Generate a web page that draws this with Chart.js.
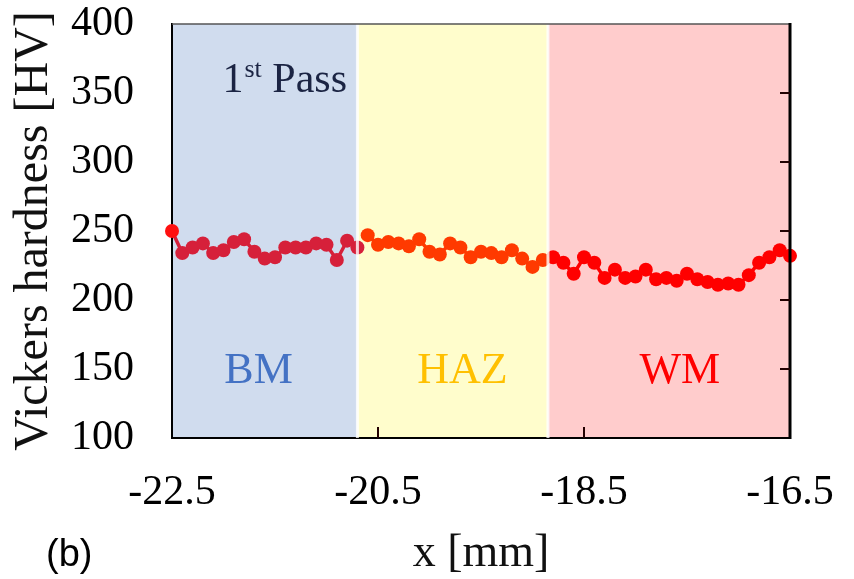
<!DOCTYPE html>
<html>
<head>
<meta charset="utf-8">
<script src="https://cdn.jsdelivr.net/npm/chart.js@4.4.0/dist/chart.umd.min.js"></script>
<style>
  html, body { margin: 0; padding: 0; background: #fff; }
  #wrap { width: 854px; height: 579px; position: relative; }
</style>
</head>
<body>
<div id="wrap"><canvas id="hvChart"></canvas></div>
<script>
// Hardness profile, 1st pass (x in mm, hardness in HV)
const bmX  = [-22.5, -22.4, -22.3, -22.2, -22.1, -22.0, -21.9, -21.8, -21.7, -21.6,
              -21.5, -21.4, -21.3, -21.2, -21.1, -21.0, -20.9, -20.8, -20.7];
const bmHV = [250, 234, 238, 241, 234, 236, 242, 244, 235, 230,
              231, 238, 238, 238, 241, 240, 229, 243, 238];

const hazX  = [-20.6, -20.5, -20.4, -20.3, -20.2, -20.1, -20.0, -19.9, -19.8,
               -19.7, -19.6, -19.5, -19.4, -19.3, -19.2, -19.1, -19.0, -18.9];
const hazHV = [247, 240, 242, 241, 239, 244, 235, 233, 241,
               238, 231, 235, 234, 231, 236, 230, 224, 229];

const wmX  = [-18.8, -18.7, -18.6, -18.5, -18.4, -18.3, -18.2, -18.1, -18.0, -17.9, -17.8, -17.7,
              -17.6, -17.5, -17.4, -17.3, -17.2, -17.1, -17.0, -16.9, -16.8, -16.7, -16.6, -16.5];
const wmHV = [231, 227, 219, 231, 227, 216, 222, 216, 217, 222, 215, 216,
              214, 219, 215, 213, 211, 212, 211, 218, 227, 231, 236, 232];

const zoneNames = ['BM', 'HAZ', 'WM'];
const zoneEdges = [-22.5, -20.7, -18.85, -16.5];

const xTicks = [-22.5, -20.5, -18.5, -16.5];
const yTicks = [100, 150, 200, 250, 300, 350, 400];

const SERIF = '"Liberation Serif", "Times New Roman", serif';
const zoneFill = ['#D0DCEE', '#FFFDCC', '#FFCCCC'];
const zoneText = ['#4472C4', '#FFC000', '#FF0000'];
const zoneLabelAt = [[-21.66, 148], [-19.68, 148], [-17.57, 148]];

const pts = (xs, ys) => xs.map((x, i) => ({ x: x, y: ys[i] }));

const overlay = {
  id: 'overlay',
  beforeDraw(chart) {
    const { ctx, chartArea: a, scales: { x } } = chart;
    ctx.save();
    zoneNames.forEach((n, i) => {
      const x0 = x.getPixelForValue(zoneEdges[i]);
      const x1 = x.getPixelForValue(zoneEdges[i + 1]);
      ctx.fillStyle = zoneFill[i];
      ctx.fillRect(x0, a.top, x1 - x0, a.bottom - a.top);
    });
    ctx.restore();
  },
  afterDatasetsDraw(chart) {
    const { ctx, chartArea: a, scales: { x, y } } = chart;
    ctx.save();
    // white separators between zones
    ctx.strokeStyle = 'rgba(255,255,255,0.8)';
    ctx.lineWidth = 3;
    zoneEdges.slice(1, -1).forEach(v => {
      const px = x.getPixelForValue(v);
      ctx.beginPath(); ctx.moveTo(px, a.top); ctx.lineTo(px, a.bottom); ctx.stroke();
    });
    // frame: top + right
    ctx.strokeStyle = '#555';
    ctx.lineWidth = 1.5;
    ctx.beginPath(); ctx.moveTo(a.left, a.top); ctx.lineTo(a.right, a.top); ctx.stroke();
    ctx.strokeStyle = '#000';
    ctx.lineWidth = 3;
    ctx.beginPath(); ctx.moveTo(a.right, a.top - 1); ctx.lineTo(a.right, a.bottom + 1); ctx.stroke();
    // inward ticks
    ctx.strokeStyle = '#200';
    ctx.lineWidth = 2;
    yTicks.slice(1, -1).forEach(v => {
      const py = y.getPixelForValue(v);
      ctx.beginPath(); ctx.moveTo(a.right, py); ctx.lineTo(a.right - 10, py); ctx.stroke();
    });
    xTicks.slice(1, -1).forEach(v => {
      const px = x.getPixelForValue(v);
      ctx.beginPath(); ctx.moveTo(px, a.bottom); ctx.lineTo(px, a.bottom - 11); ctx.stroke();
    });
    // zone labels
    ctx.font = '44px ' + SERIF;
    ctx.textAlign = 'center';
    ctx.textBaseline = 'middle';
    zoneNames.forEach((n, i) => {
      ctx.fillStyle = zoneText[i];
      ctx.fillText(n, x.getPixelForValue(zoneLabelAt[i][0]), y.getPixelForValue(zoneLabelAt[i][1]));
    });
    // "1st Pass"
    ctx.fillStyle = '#1B2443';
    ctx.textAlign = 'left';
    ctx.textBaseline = 'alphabetic';
    let px = x.getPixelForValue(-22.01);
    const py = y.getPixelForValue(351);
    ctx.font = '42px ' + SERIF;
    ctx.fillText('1', px, py);
    px += ctx.measureText('1').width;
    ctx.font = '26px ' + SERIF;
    ctx.fillText('st', px + 1, py - 15);
    px += ctx.measureText('st').width + 1;
    ctx.font = '42px ' + SERIF;
    ctx.fillText(' Pass', px, py);
    ctx.restore();
  },
  afterDraw(chart) {
    const { ctx } = chart;
    ctx.save();
    ctx.fillStyle = '#000';
    ctx.font = '38px "Liberation Sans", Arial, sans-serif';
    ctx.textAlign = 'left';
    ctx.textBaseline = 'middle';
    ctx.fillText('(b)', 46, 556);
    ctx.restore();
  }
};

const series = (data, color, firstColor) => ({
  data: data,
  borderColor: color,
  backgroundColor: color,
  pointBackgroundColor: data.map((p, i) => (i === 0 && firstColor) ? firstColor : color),
  pointBorderWidth: 0,
  pointRadius: 7,
  borderWidth: 3.5,
  tension: 0,
  clip: false
});

new Chart(document.getElementById('hvChart'), {
  type: 'line',
  data: {
    datasets: [
      series(pts(bmX, bmHV), '#D6203A', '#FF1010'),
      series(pts(hazX, hazHV), '#FF3A00'),
      series(pts(wmX, wmHV), '#FF0000')
    ]
  },
  options: {
    responsive: true,
    maintainAspectRatio: false,
    animation: false,
    layout: { padding: { left: 0, top: 24, right: 64, bottom: 0 } },
    plugins: { legend: { display: false }, tooltip: { enabled: false } },
    scales: {
      x: {
        type: 'linear',
        min: -22.5,
        max: -16.5,
        afterBuildTicks: s => { s.ticks = xTicks.map(v => ({ value: v })); },
        afterFit: s => { s.height = 141; s.paddingLeft = 0; s.paddingRight = 0; },
        grid: { display: false, drawTicks: false },
        border: { color: '#000', width: 2 },
        ticks: {
          autoSkip: false, maxRotation: 0, padding: 30, color: '#000',
          font: { family: SERIF, size: 42 },
          callback: v => v.toFixed(1)
        },
        title: {
          display: true, text: 'x [mm]', color: '#111',
          font: { family: SERIF, size: 46, lineHeight: 1 },
          padding: { top: 0, bottom: 2 }
        }
      },
      y: {
        min: 100,
        max: 400,
        afterBuildTicks: s => { s.ticks = yTicks.map(v => ({ value: v })); },
        afterFit: s => { s.width = 172; s.paddingTop = 0; s.paddingBottom = 0; },
        grid: { display: false, drawTicks: false },
        border: { color: '#000', width: 2 },
        ticks: {
          autoSkip: false, padding: 38, color: '#000',
          font: { family: SERIF, size: 42 }
        },
        title: {
          display: true, text: 'Vickers hardness [HV]', color: '#111',
          font: { family: SERIF, size: 48, lineHeight: 1 },
          padding: { top: 10, bottom: 0 }
        }
      }
    }
  },
  plugins: [overlay]
});
</script>
</body>
</html>
